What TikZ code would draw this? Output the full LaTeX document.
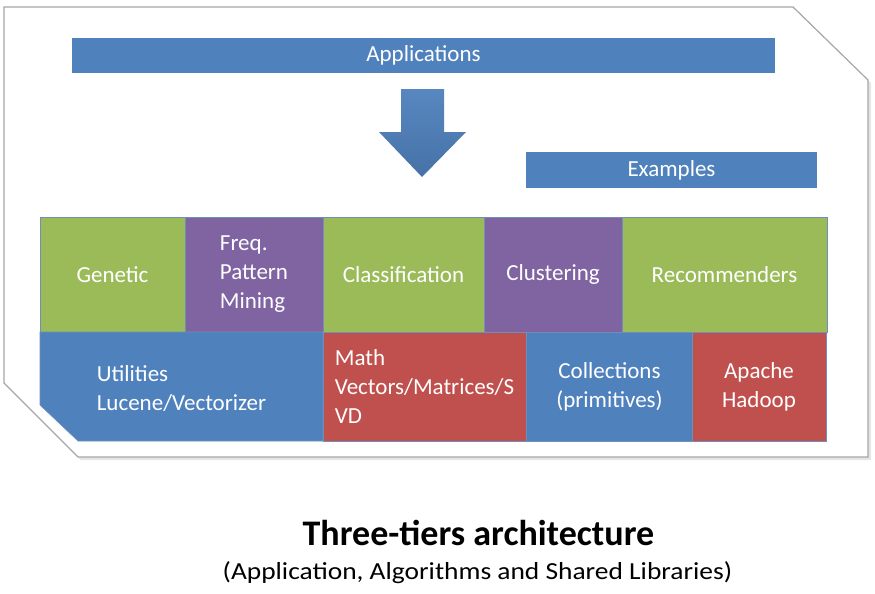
\documentclass[tikz,border=0pt]{standalone}
\usepackage{fontspec}
\setmainfont{Carlito}
\definecolor{tierblue}{HTML}{4F81BD}
\definecolor{tiergreen}{HTML}{9BBB59}
\definecolor{tierpurple}{HTML}{8064A2}
\definecolor{tierred}{HTML}{C0504D}
\definecolor{cellline}{HTML}{6F8FBA}
\definecolor{framegray}{HTML}{A6A6A6}
\begin{document}
\begin{tikzpicture}[x=1pt,y=-1pt,
  cell/.style={draw=cellline,line width=0.6pt,text=white,inner sep=0pt,
    font=\fontsize{23}{29}\selectfont,align=center},
  bar/.style={cell,fill=tierblue,draw=none},
  txt/.style={text=white,inner sep=0pt,font=\fontsize{23}{29}\selectfont,align=left}]
\useasboundingbox (0,0) rectangle (875,594);
%frame with shadow
\fill[black!10] (7,10) -- (796,10) -- (871,83) -- (871,460) -- (81,460) -- (7,386) -- cycle;
\filldraw[fill=white,draw=framegray,line width=1.2pt] (4,7) -- (793,7) -- (868,80) -- (868,457) -- (78,457) -- (4,383) -- cycle;

%top bars
\node[bar,minimum width=703,minimum height=35] (apps) at (423.5,55.5) {Applications};
\node[bar,minimum width=291,minimum height=36] (examples) at (671.5,170) {Examples};

%arrow
\shade[top color=tierblue!95!white,bottom color=tierblue!88!black]
  (401,89) -- (444,89) -- (444,132) -- (466,132) -- (422,177) -- (379,132) -- (401,132) -- cycle;

%algorithms row
\node[cell,fill=tiergreen,minimum width=145,minimum height=115] (genetic) at (112.5,274.5) {Genetic};
\node[cell,fill=tierpurple,minimum width=138,minimum height=115,align=left] (freq) at (254,274.5) {Freq.\\Pattern\\Mining};
\node[cell,fill=tiergreen,minimum width=161,minimum height=115] (classif) at (403.5,274.5) {Classification};
\node[cell,fill=tierpurple,minimum width=138,minimum height=115] (cluster) at (553,274.5) {Clustering};
\node[cell,fill=tiergreen,minimum width=205,minimum height=115] (recomm) at (724.5,274.5) {Recommenders};

%shared libraries row
\filldraw[fill=tierblue,draw=cellline,line width=0.6pt] (40,332) -- (323,332) -- (323,441) -- (78,441) -- (40,405) -- cycle;
\node[txt] (utils) at (181.5,388) {Utilities\\Lucene/Vectorizer};
\node[cell,fill=tierred,minimum width=203,minimum height=109,align=left] (math) at (424.5,386.5) {Math\\Vectors/Matrices/S\\VD};
\node[cell,fill=tierblue,minimum width=167,minimum height=109] (collect) at (609.5,386.5) {Collections\\(primitives)};
\node[cell,fill=tierred,minimum width=134,minimum height=109] (hadoop) at (759,386.5) {Apache\\Hadoop};

%caption
\node[anchor=base,inner sep=0pt,font=\fontsize{36}{40}\selectfont\bfseries] (title) at (478.5,545) {Three-tiers architecture};
\node[anchor=base,inner sep=0pt,font=\fontsize{24.5}{28}\selectfont\addfontfeature{FakeStretch=1.12}] (subtitle) at (477.5,579) {(Application, Algorithms and Shared Libraries)};
\end{tikzpicture}
\end{document}
